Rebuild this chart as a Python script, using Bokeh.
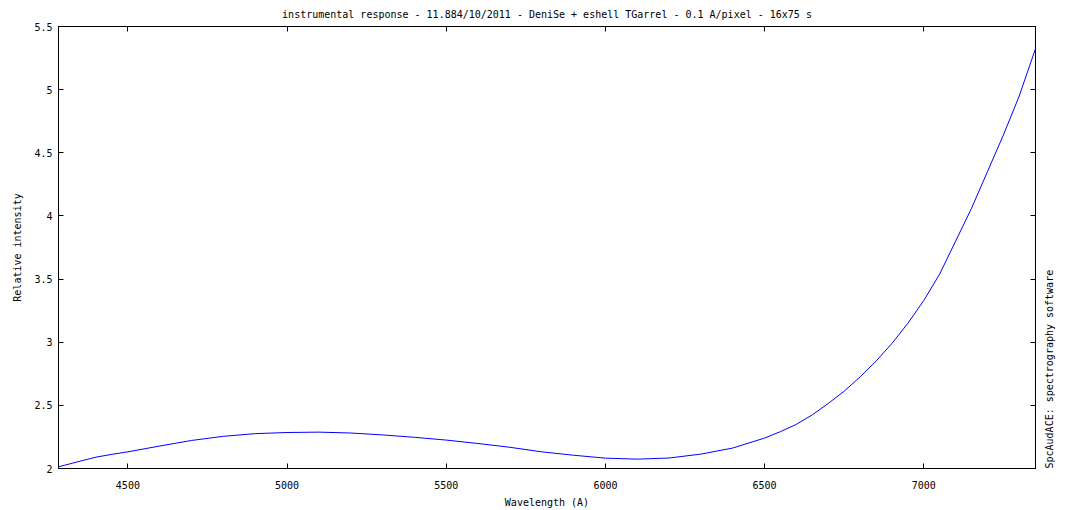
import math
from bokeh.plotting import figure
from bokeh.models import (Range1d, FixedTicker, NumeralTickFormatter, LinearAxis,
                          CustomJSTickFormatter, ColumnDataSource)
from bokeh.embed import file_html
from bokeh.resources import INLINE

# ---- data ----
wavelength = [4282, 4300, 4350, 4400, 4450, 4500, 4600, 4700, 4800, 4900, 5000, 5100, 5200,
              5300, 5400, 5500, 5600, 5700, 5800, 5900, 6000, 6100, 6200, 6300,
              6400, 6500, 6550, 6600, 6650, 6700, 6750, 6800, 6850, 6900, 6950, 7000,
              7050, 7100, 7150, 7200, 7250, 7300, 7351]
intensity = [2.013, 2.025, 2.058, 2.090, 2.112, 2.132, 2.178, 2.222, 2.255, 2.276, 2.285, 2.288, 2.281,
             2.266, 2.247, 2.225, 2.198, 2.168, 2.132, 2.105, 2.082, 2.074, 2.083, 2.114,
             2.162, 2.241, 2.292, 2.350, 2.425, 2.515, 2.612, 2.725, 2.850, 2.990, 3.150, 3.330,
             3.540, 3.800, 4.060, 4.350, 4.640, 4.950, 5.325]
x_ticks = [4500, 5000, 5500, 6000, 6500, 7000]
y_ticks = [2, 2.5, 3, 3.5, 4, 4.5, 5, 5.5]
x_limits = [4282, 7351]
y_limits = [2, 5.5]
title_text = "instrumental response - 11.884/10/2011 - DeniSe + eshell TGarrel - 0.1 A/pixel - 16x75 s"
x_label = "Wavelength (A)"
y_label = "Relative intensity"
side_label = "SpcAudACE: spectrography software"

FONT = "DejaVu Sans Mono"
FS = "10px"

src = ColumnDataSource(data=dict(x=wavelength, y=intensity))

p = figure(width=1070, height=510, output_backend="svg", toolbar_location=None,
           x_range=Range1d(*x_limits), y_range=Range1d(*y_limits),
           min_border_left=58, min_border_right=35, min_border_top=26, min_border_bottom=42,
           background_fill_color="white", border_fill_color="white")
p.grid.visible = False
p.outline_line_color = "black"
p.outline_line_width = 1

p.title.text = title_text
p.title.align = "center"
p.title.text_font = FONT
p.title.text_font_size = FS
p.title.text_font_style = "normal"
p.title.text_color = "black"
p.title.standoff = 13
p.title.offset = 0

p.line("x", "y", source=src, line_color="#0000ff", line_width=1)

def style_axis(ax, ticks, fmt, standoff):
    ax.ticker = FixedTicker(ticks=ticks)
    ax.formatter = fmt
    ax.major_tick_in = 5
    ax.major_tick_out = 0
    ax.minor_tick_line_color = None
    ax.axis_line_color = "black"
    ax.major_tick_line_color = "black"
    ax.major_label_text_font = FONT
    ax.major_label_text_font_size = FS
    ax.major_label_text_color = "black"
    ax.major_label_standoff = standoff
    ax.axis_label_text_font = FONT
    ax.axis_label_text_font_size = FS
    ax.axis_label_text_font_style = "normal"
    ax.axis_label_text_color = "black"

xa = p.xaxis[0]
style_axis(xa, x_ticks, NumeralTickFormatter(format="0"), 12)
xa.axis_label = x_label
xa.axis_label_standoff = 5

ya = p.yaxis[0]
style_axis(ya, y_ticks, NumeralTickFormatter(format="0.[0]"), 6)
ya.axis_label = y_label
ya.axis_label_standoff = 8

empty = CustomJSTickFormatter(code="return ''")
rax = LinearAxis()
style_axis(rax, y_ticks, empty, 0)
rax.axis_label = side_label
rax.axis_label_standoff = 14
props = rax.properties()
if "axis_label_orientation" in props:
    rax.axis_label_orientation = math.pi / 2
if "axis_label_align" in props:
    rax.axis_label_align = "start"
p.add_layout(rax, "right")

tax = LinearAxis()
style_axis(tax, x_ticks, empty, 0)
tax.major_label_text_font_size = "0px"
p.add_layout(tax, "above")

open("out.html", "w").write(file_html(p, INLINE))
